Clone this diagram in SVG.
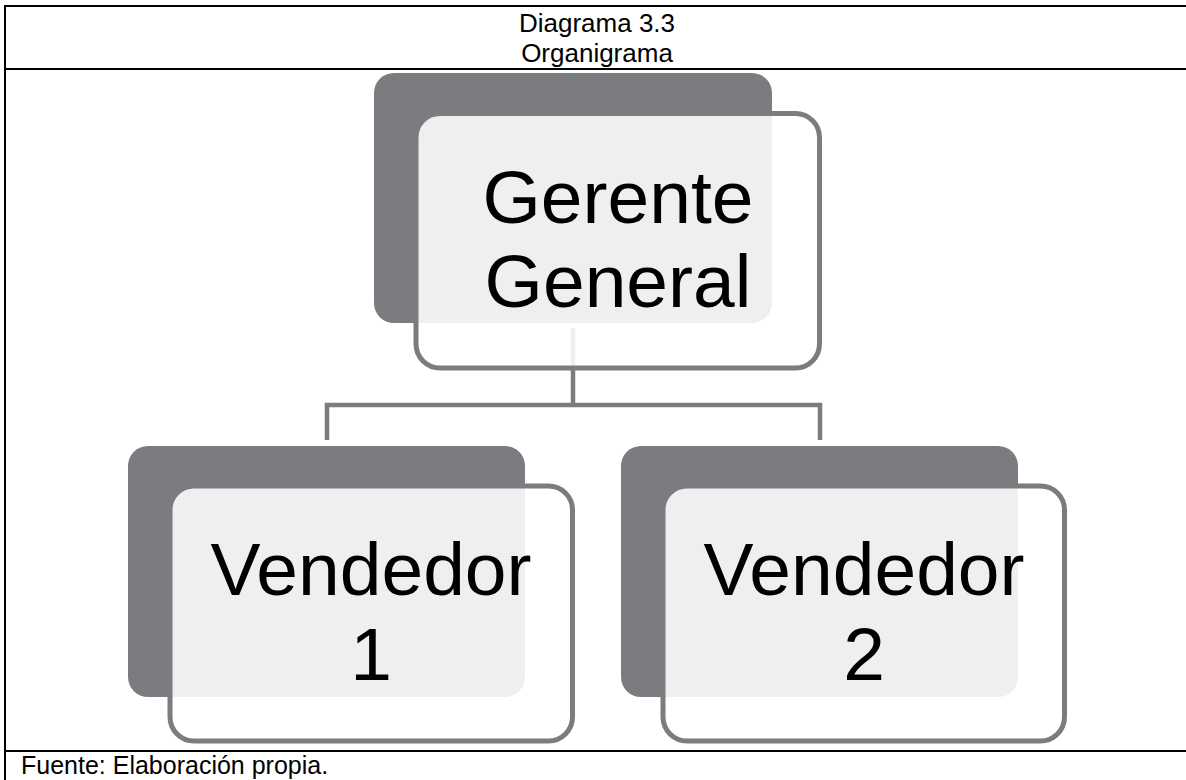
<svg xmlns="http://www.w3.org/2000/svg" width="1186" height="780" viewBox="0 0 1186 780">
  <style>
    .rule { stroke: #000; stroke-width: 2; fill: none; }
    .cap { font-family: "Liberation Sans", Arial, sans-serif; font-size: 26px; fill: #000; }
    .note { font-family: "Liberation Sans", Arial, sans-serif; font-size: 25px; fill: #000; }
    .back { fill: #7b7c80; }
    .front { fill: #fff; fill-opacity: 0.88; stroke: #7b7c80; stroke-width: 5; }
    .label { font-family: "Liberation Sans", Arial, sans-serif; font-size: 75px; fill: #000; text-anchor: middle; }
    .link { stroke: #7b7c80; stroke-width: 4.5; fill: none; }
  </style>

  <rect width="1186" height="780" fill="#fff"/>

  <!-- table frame -->
  <g id="frame">
    <line class="rule" x1="4" y1="6" x2="1186" y2="6"/>
    <line class="rule" x1="5" y1="5" x2="5" y2="780"/>
    <line class="rule" x1="4" y1="69" x2="1186" y2="69"/>
    <line class="rule" x1="4" y1="751" x2="1186" y2="751"/>
    <text class="cap" x="597" y="32" text-anchor="middle">Diagrama 3.3</text>
    <text class="cap" x="597" y="62" text-anchor="middle">Organigrama</text>
    <text class="note" x="21" y="774">Fuente: Elaboración propia.</text>
  </g>

  <!-- back plates -->
  <rect class="back" x="374" y="73" width="398" height="250" rx="20"/>
  <rect class="back" x="128" y="446" width="397" height="251" rx="20"/>
  <rect class="back" x="621" y="446" width="397" height="251" rx="20"/>

  <!-- connectors -->
  <g id="connectors">
    <path class="link" d="M573 328 V405"/>
    <path class="link" d="M327 440 V405 H820 V440"/>
  </g>

  <g id="gerente">
    <rect class="front" x="416" y="113.5" width="403.5" height="254.5" rx="24"/>
    <text class="label" x="618" y="223">Gerente</text>
    <text class="label" x="618" y="307">General</text>
  </g>

  <g id="vendedor1">
    <rect class="front" x="170" y="486" width="402.5" height="255" rx="24"/>
    <text class="label" x="371" y="595">Vendedor</text>
    <text class="label" x="371" y="680">1</text>
  </g>

  <g id="vendedor2">
    <rect class="front" x="663" y="486" width="401.5" height="255" rx="24"/>
    <text class="label" x="864" y="595">Vendedor</text>
    <text class="label" x="864" y="680">2</text>
  </g>
</svg>
